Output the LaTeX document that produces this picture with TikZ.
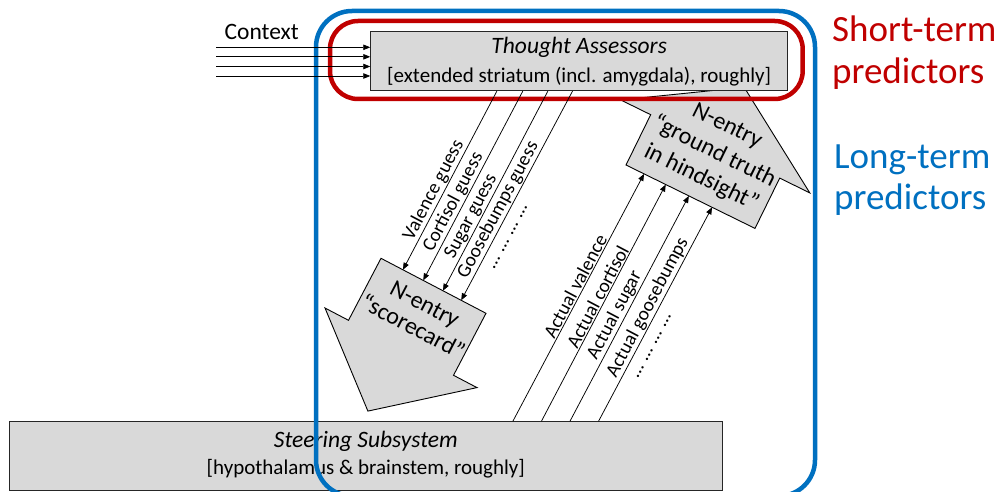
\documentclass[tikz,border=0pt]{standalone}
\usepackage{fontspec}
\setmainfont{Carlito}
\usetikzlibrary{arrows.meta,calc}
\definecolor{boxgray}{HTML}{D9D9D9}
\definecolor{shortred}{HTML}{C00000}
\definecolor{longblue}{HTML}{0070C0}
\newcommand{\moredots}{\vphantom{l}…\hspace{0.3em}…\hspace{0.3em}…\hspace{0.3em}…}

\begin{document}
\begin{tikzpicture}[x=1pt,y=-1pt,
  box/.style={draw=black!85,line width=0.9pt,fill=boxgray,inner sep=0pt},
  block/.style={draw=black,line width=0.9pt,fill=boxgray,line join=miter},
  blocktext/.style={align=center,inner sep=0pt,font=\fontsize{24}{26}\selectfont},
  thin/.style={line width=0.75pt,-{Triangle[length=7pt,width=5.5pt]}},
  title/.style={inner sep=0pt,font=\fontsize{23.5}{28}\selectfont\itshape},
  subtitle/.style={inner sep=0pt,font=\fontsize{21}{25}\selectfont},
  lbl/.style={inner sep=1pt,font=\fontsize{19.4}{23}\selectfont},
  side/.style={anchor=west,align=left,inner sep=0pt,font=\fontsize{37}{41.5}\selectfont},
]
\useasboundingbox (0,0) rectangle (1002,492);

% block arrow: "scorecard", pointing down-left
\coordinate (sc1) at (381,258.3);
\coordinate (sc2) at (486,313.3);
\coordinate (sc3) at (453.5,375.3);
\coordinate (sc4) at (477,387.6);
\coordinate (sc5) at (367.9,411.1);
\coordinate (sc6) at (325,308);
\coordinate (sc7) at (348.5,320.3);
\draw[block] (sc1) -- (sc2) -- (sc3) -- (sc4) -- (sc5) -- (sc6) -- (sc7) -- cycle;
\node[blocktext,rotate=-27.6] (sctext) at (418.8,315.5) {N-entry\\“scorecard”};

% block arrow: "ground truth", pointing up-right
\coordinate (gt1) at (626,165);
\coordinate (gt2) at (755,228.4);
\coordinate (gt3) at (779.7,178.1);
\coordinate (gt4) at (809.8,192.9);
\coordinate (gt5) at (744.2,87.3);
\coordinate (gt6) at (620.6,99.9);
\coordinate (gt7) at (650.7,114.7);
\draw[block] (gt1) -- (gt2) -- (gt3) -- (gt4) -- (gt5) -- (gt6) -- (gt7) -- cycle;
\node[blocktext,rotate=-26.2,font=\fontsize{24}{29}\selectfont] (gttext) at (714,152.5)
  {N-entry\\“ground truth\\in hindsight”};

% the two subsystems
\node[box,minimum width=417pt,minimum height=59.7pt] (ta) at (579.2,60.85) {};
\node[title] (tatitle) at (579.2,47.5) {Thought Assessors};
\node[subtitle] (tasub) at (579.2,76.5) {[extended striatum (incl. amygdala), roughly]};

\node[box,minimum width=713pt,minimum height=68.3pt] (ss) at (365.8,455.85) {};
\node[title] (sstitle) at (365.8,441.5) {Steering Subsystem};
\node[subtitle] (sssub) at (365.8,469) {[hypothalamus \& brainstem, roughly]};

% predictor groupings
\draw[shortred,line width=4.5pt,rounded corners=28pt] (330,21) rectangle (802.7,99);
\draw[longblue,line width=4.5pt,rounded corners=36pt] (316,11) rectangle (815,496);

% guesses, from the Thought Assessors down to the scorecard
\draw[thin] ($(ta.south west)!0.303!(ta.south east)$) -- ($(sc1)!0.209!(sc2)$)
  node[lbl,pos=0.58,sloped,anchor=south] {Valence guess};
\draw[thin] ($(ta.south west)!0.365!(ta.south east)$) -- ($(sc1)!0.402!(sc2)$)
  node[lbl,pos=0.61,sloped,anchor=south] {Cortisol guess};
\draw[thin] ($(ta.south west)!0.425!(ta.south east)$) -- ($(sc1)!0.59!(sc2)$)
  node[lbl,pos=0.65,sloped,anchor=south] {Sugar guess};
\draw[thin] ($(ta.south west)!0.484!(ta.south east)$) -- ($(sc1)!0.764!(sc2)$)
  node[lbl,pos=0.59,sloped,anchor=south] {Goosebumps guess}
  node[lbl,pos=0.67,sloped,anchor=north] {\moredots};

% actual values, from the Steering Subsystem up to the ground truth
\draw[thin] ($(ss.north west)!0.706!(ss.north east)$) -- ($(gt1)!0.140!(gt2)$)
  node[lbl,pos=0.53,sloped,anchor=south] {Actual valence};
\draw[thin] ($(ss.north west)!0.746!(ss.north east)$) -- ($(gt1)!0.308!(gt2)$)
  node[lbl,pos=0.51,sloped,anchor=south] {Actual cortisol};
\draw[thin] ($(ss.north west)!0.786!(ss.north east)$) -- ($(gt1)!0.487!(gt2)$)
  node[lbl,pos=0.45,sloped,anchor=south] {Actual sugar};
\draw[thin] ($(ss.north west)!0.826!(ss.north east)$) -- ($(gt1)!0.667!(gt2)$)
  node[lbl,pos=0.51,sloped,anchor=south] {Actual goosebumps}
  node[lbl,pos=0.38,sloped,anchor=north] {\moredots};

% context inputs
\node[inner sep=0pt,font=\fontsize{23.5}{28}\selectfont] (context) at (261.7,31.7) {Context};
\coordinate (c1) at (216,47.3);
\coordinate (c2) at (216,56.8);
\coordinate (c3) at (216,66.5);
\coordinate (c4) at (216,76);
\foreach \c in {c1,c2,c3,c4}
  \draw[thin] (\c) -- (\c -| ta.west);

% side captions
\node[side,text=shortred] (shortcap) at (832,52.5) {Short-term\\predictors};
\node[side,text=longblue] (longcap) at (834,180) {Long-term\\predictors};
\end{tikzpicture}
\end{document}
